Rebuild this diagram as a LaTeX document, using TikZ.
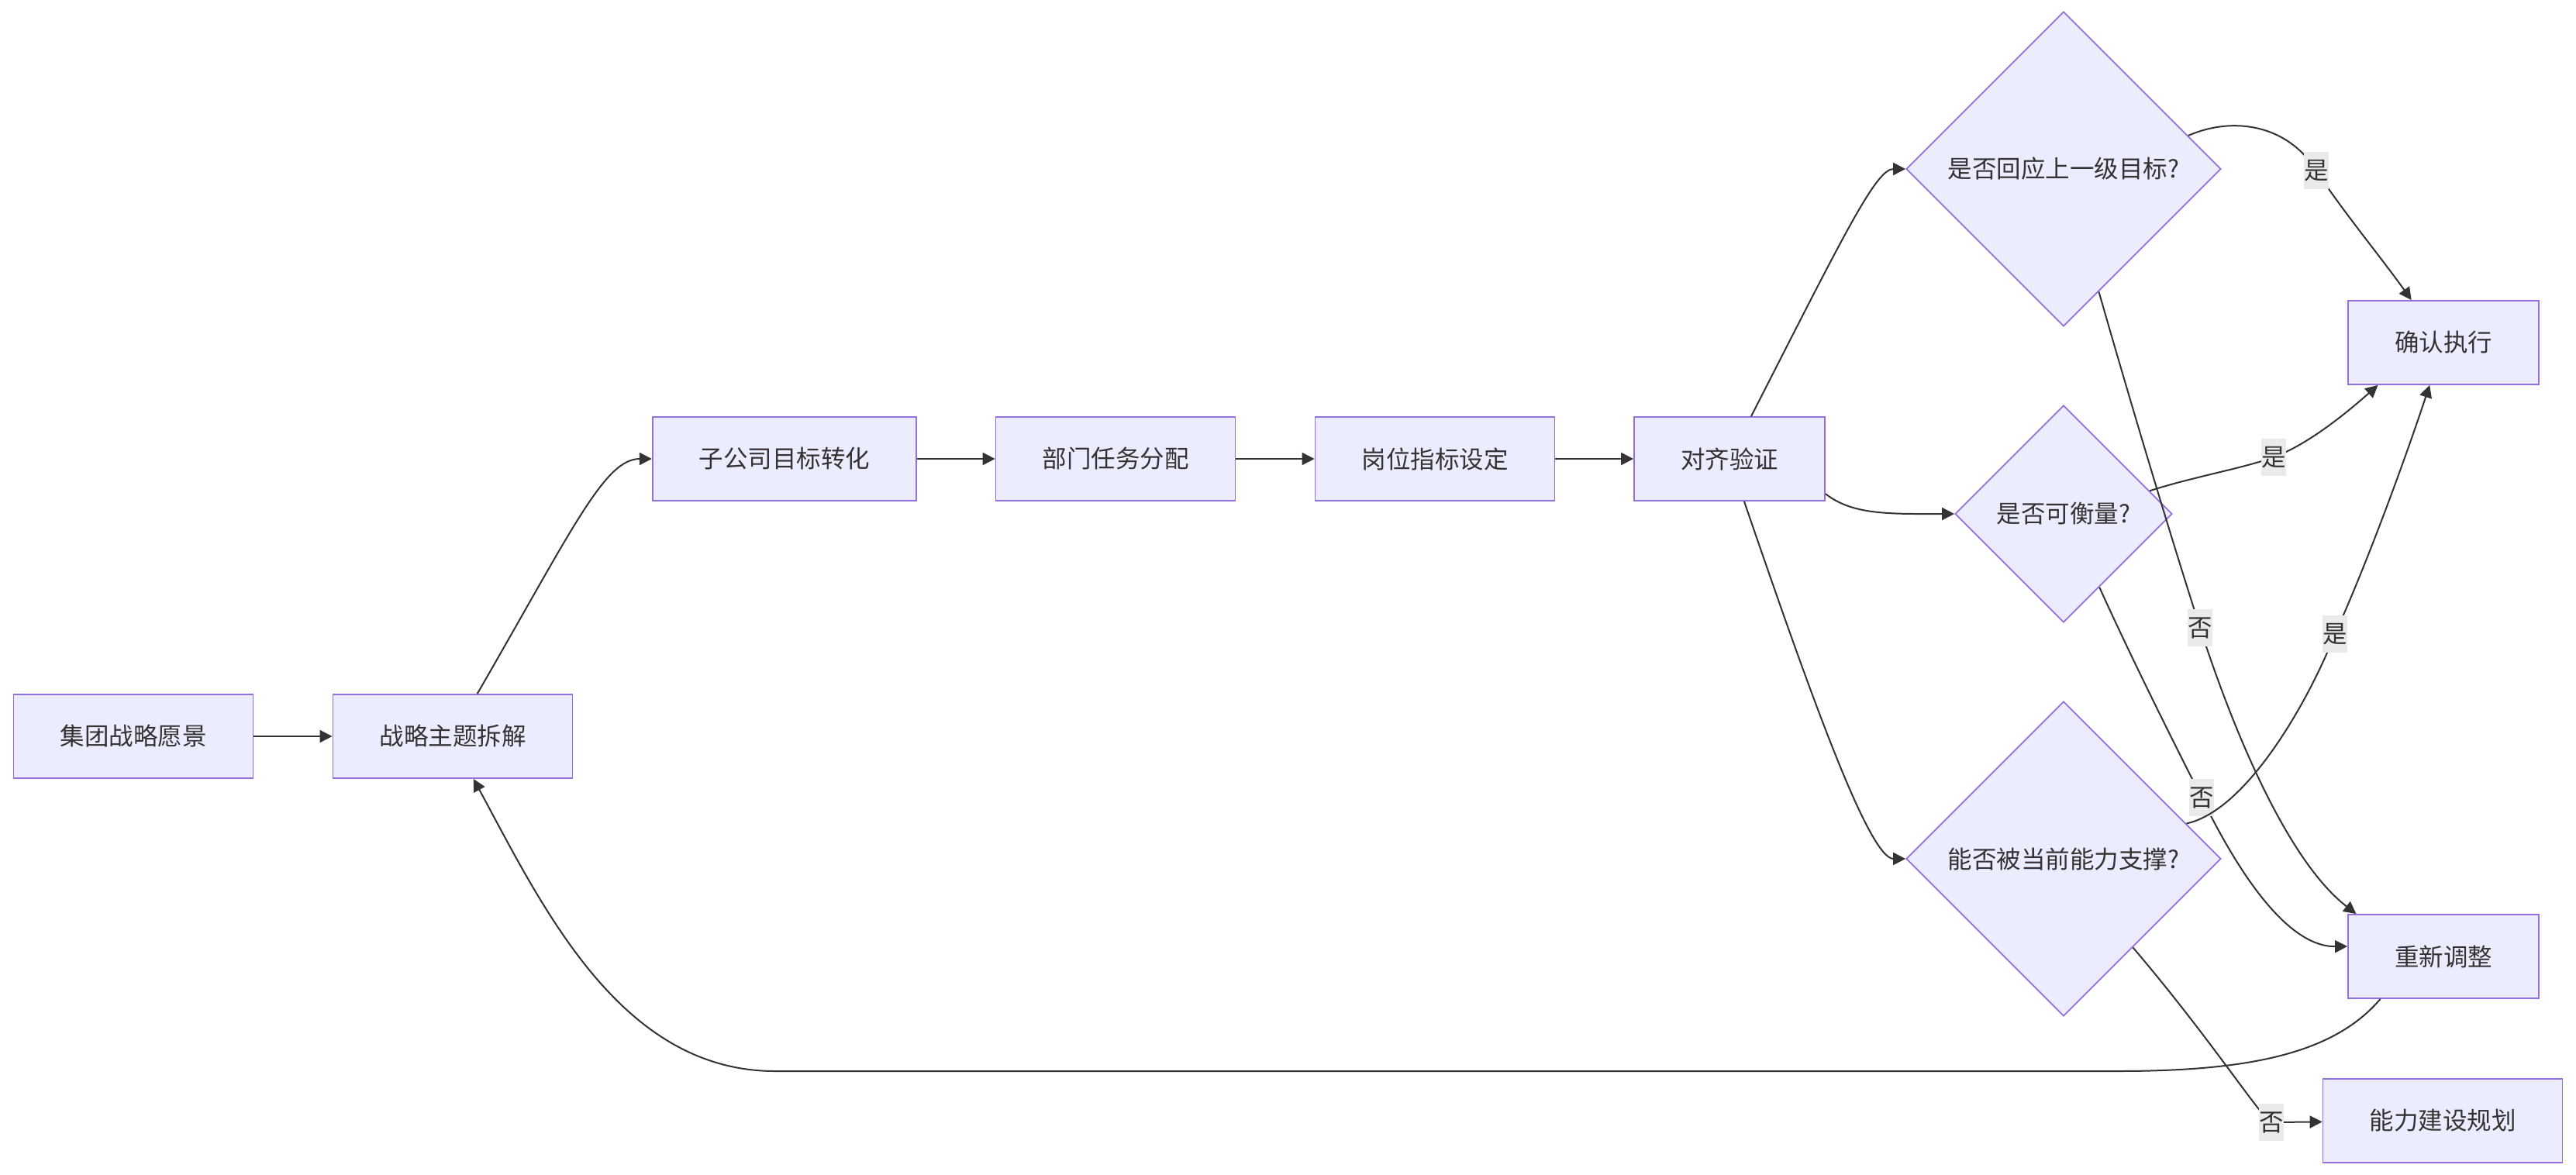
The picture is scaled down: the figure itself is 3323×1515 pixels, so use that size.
\documentclass[tikz,border=0pt]{standalone}
\usepackage{fontspec}
\setmainfont{Noto Sans CJK SC}
\usepackage{tikz}
\usetikzlibrary{arrows.meta, shapes.geometric}
\definecolor{NodeFill}{RGB}{236,236,255}
\definecolor{NodeLine}{RGB}{147,112,219}
\definecolor{EdgeGray}{RGB}{51,51,51}
\definecolor{LabelGray}{RGB}{234,234,234}

\begin{document}
\begin{tikzpicture}[x=0.5pt, y=-0.5pt,
	font=\fontsize{15.75pt}{18pt}\selectfont, text=EdgeGray,
	box/.style={rectangle, draw=NodeLine, fill=NodeFill, line width=0.9pt,
		minimum height=54pt, inner xsep=30pt, inner ysep=0pt},
	dec/.style={diamond, aspect=1, draw=NodeLine, fill=NodeFill, line width=0.9pt, inner sep=0pt},
	lbl/.style={fill=LabelGray, inner xsep=0pt, inner ysep=0pt, minimum height=24pt},
	arr/.style={draw=EdgeGray, line width=1pt, -{Triangle[length=8pt, width=8pt]}}]
	\path[use as bounding box, fill=white] (0,0) rectangle (3323,1515);
	% main line
	\node[box] (vision) at (172,950) {集团战略愿景};
	\node[box] (theme) at (584,950) {战略主题拆解};
	\node[box] (sub) at (1012,592) {子公司目标转化};
	\node[box] (dept) at (1439,592) {部门任务分配};
	\node[box] (post) at (1851,592) {岗位指标设定};
	\node[box] (check) at (2231,592) {对齐验证};
	\draw[arr] (vision) -- (theme);
	\draw[arr] (theme.60) .. controls (740,680) and (780,592) .. (sub.west);
	\foreach \a/\b in {sub/dept, dept/post, post/check}{\draw[arr] (\a) -- (\b);}
	% checks
	\node[dec, minimum size=203pt] (q1) at (2662,218) {是否回应上一级目标?};
	\node[dec, minimum size=140pt] (q2) at (2662,663) {是否可衡量?};
	\node[dec, minimum size=203pt] (q3) at (2662,1108) {能否被当前能力支撑?};
	\draw[arr] (check.63) .. controls (2380,300) and (2420,218) .. (q1.west);
	\draw[arr] (check.-20) .. controls (2390,665) and (2440,663) .. (q2.west);
	\draw[arr] (check.-71) .. controls (2330,880) and (2410,1108) .. (q3.west);
	% outcomes
	\node[box] (ok) at (3152,442) {确认执行};
	\node[box] (adjust) at (3152,1234) {重新调整};
	\node[box] (build) at (3151,1446) {能力建设规划};
	\draw[arr] (q1.15) .. controls (2880,150) and (2950,160) .. (2988,220) node[lbl] {是}
		.. controls (3020,270) and (3070,330) .. (ok.127);
	\draw[arr] (q1.-74) .. controls (2740,490) and (2790,660) .. (2838,810) node[lbl] {否}
		.. controls (2880,940) and (2950,1110) .. (adjust.154);
	\draw[arr] (q2.15) .. controls (2830,615) and (2890,605) .. (2933,590) node[lbl] {是}
		.. controls (2980,572) and (3030,530) .. (ok.213);
	\draw[arr] (q2.-64) .. controls (2750,850) and (2800,950) .. (2840,1029) node[lbl] {否}
		.. controls (2870,1090) and (2940,1222) .. (adjust.174);
	\draw[arr] (q3.16) .. controls (2900,1045) and (2980,900) .. (3012,818) node[lbl] {是}
		.. controls (3050,735) and (3100,600) .. (ok.252);
	\draw[arr] (q3.-52) .. controls (2854,1343) and (2915,1440) .. (2930,1448) node[lbl] {否}
		-- (build);
	% back to theme
	\draw[arr] (adjust.214) .. controls (3010,1360) and (2900,1382) .. (2731,1382)
		-- (1000,1382) .. controls (800,1382) and (700,1170) .. (theme.-64);
\end{tikzpicture}
\end{document}
